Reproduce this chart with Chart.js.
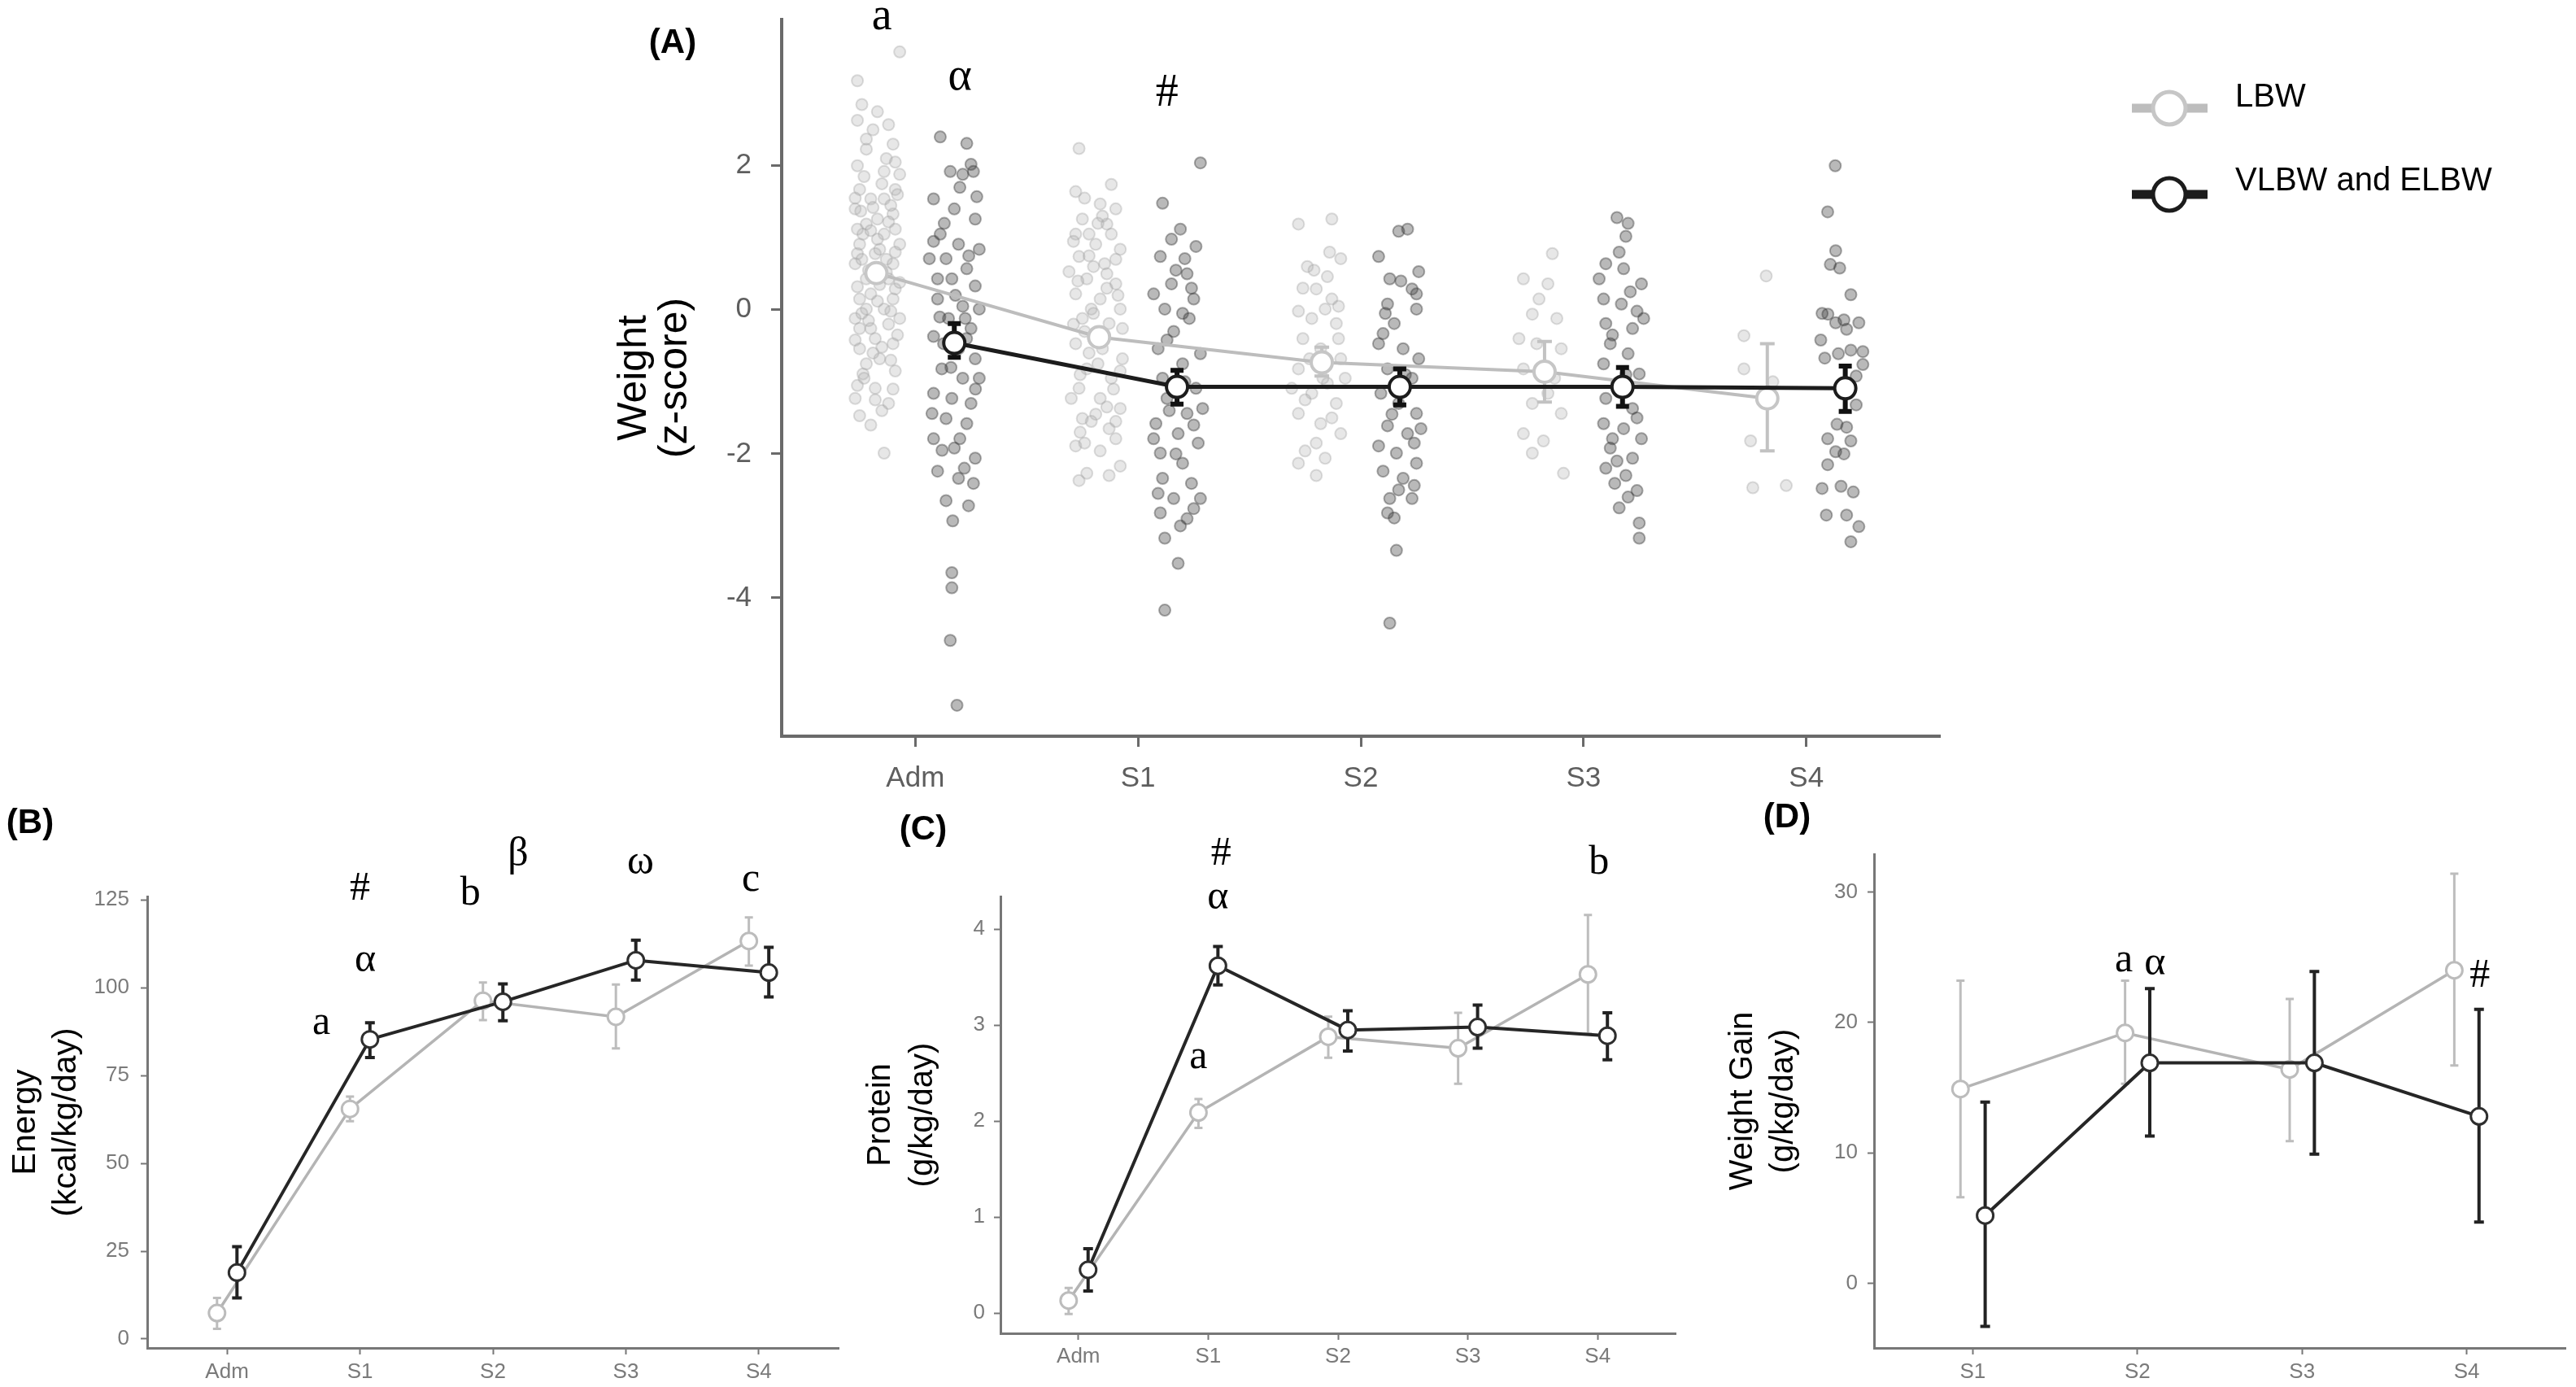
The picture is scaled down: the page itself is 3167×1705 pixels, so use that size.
<!DOCTYPE html>
<html>
<head>
<meta charset="utf-8">
<script src="https://cdn.jsdelivr.net/npm/chart.js@4.4.0/dist/chart.umd.min.js"></script>
<style>
  html, body { margin: 0; padding: 0; background: #fff; overflow: hidden; }
  body { width: 3167px; height: 1705px; position: relative; }
  canvas { position: absolute; }
  #cA { left: 700px; top: 0; width: 2467px; height: 990px; }
  #cB { left: 0; top: 960px; width: 1050px; height: 745px; }
  #cC { left: 1050px; top: 960px; width: 1050px; height: 745px; }
  #cD { left: 2100px; top: 960px; width: 1067px; height: 745px; }
</style>
</head>
<body>
<canvas id="cA" width="2467" height="990"></canvas>
<canvas id="cB" width="1050" height="745"></canvas>
<canvas id="cC" width="1050" height="745"></canvas>
<canvas id="cD" width="1067" height="745"></canvas>
<script>
// categories and groups
const stages = ['Adm', 'S1', 'S2', 'S3', 'S4'];
const stagesGain = ['S1', 'S2', 'S3', 'S4'];
const groups = ['LBW', 'VLBW and ELBW'];

// (A) weight z-score
const zLbwMean = [0.51, -0.38, -0.73, -0.86, -1.23];
const zLbwLo   = [0.42, -0.47, -0.92, -1.28, -1.96];
const zLbwHi   = [0.60, -0.29, -0.52, -0.44, -0.47];
const zVlbwMean = [-0.46, -1.07, -1.07, -1.07, -1.09];
const zVlbwLo   = [-0.66, -1.31, -1.32, -1.34, -1.41];
const zVlbwHi   = [-0.19, -0.84, -0.82, -0.80, -0.78];
const zTicks = [-4, -2, 0, 2];

// individual infants (x = stage index + jitter, y = z-score)
const zLbwPoints = [
  [-0.07,3.58],[-0.26,3.18],[-0.26,2.63],[-0.17,2.75],[-0.10,2.30],[-0.22,2.37],[-0.12,2.57],[-0.26,2.00],
  [-0.14,1.92],[-0.25,1.67],[-0.09,1.67],[-0.20,1.54],[-0.27,1.40],[-0.10,1.33],[-0.22,1.19],[-0.14,1.05],
  [-0.25,0.91],[-0.07,0.91],[-0.18,0.78],[-0.27,0.64],[-0.10,0.64],[-0.22,0.43],[-0.09,0.29],[-0.25,0.15],
  [-0.14,0.01],[-0.27,-0.12],[-0.07,-0.12],[-0.20,-0.26],[-0.10,-0.47],[-0.25,-0.54],[-0.16,-0.68],[-0.09,-0.85],
  [-0.235,-0.89],[-0.18,-1.09],[-0.27,-1.23],[-0.12,-1.30],[-0.25,-1.47],[-0.14,-1.99],[-0.17,1.26],[-0.235,1.05],
  [-0.12,0.43],[-0.22,0.01],[-0.10,0.15],[-0.18,-0.40],[-0.25,-0.26],[-0.16,0.84],[-0.09,1.12],[-0.245,1.37],
  [-0.14,1.54],[-0.07,1.88],[-0.22,2.23],[-0.20,1.10],[-0.13,0.70],[-0.21,0.55],[-0.16,0.35],[-0.24,-0.05],
  [-0.12,-0.20],[-0.19,-0.60],[-0.23,-0.95],[-0.15,-1.40],[-0.11,1.45],[-0.26,0.78],
  [-0.23,1.85],[-0.15,1.75],[-0.08,1.60],[-0.27,1.55],[-0.19,1.42],[-0.12,1.22],[-0.26,1.12],[-0.17,0.98],
  [-0.09,0.80],[-0.24,0.70],[-0.13,0.52],[-0.20,0.22],[-0.07,0.38],[-0.26,0.32],[-0.17,0.12],[-0.11,-0.02],
  [-0.21,-0.15],[-0.08,-0.35],[-0.27,-0.42],[-0.15,-0.52],[-0.22,-0.75],[-0.11,-0.70],[-0.26,-1.05],[-0.18,-1.25],
  [-0.10,-1.10],[-0.20,-1.60],[-0.13,2.10],[-0.19,2.50],[-0.09,2.05],[-0.24,2.85],
  [0.735,2.24],[0.88,1.74],[0.72,1.64],[0.83,1.47],[0.90,1.40],[0.75,1.26],[0.86,1.19],[0.72,1.05],
  [0.81,0.91],[0.92,0.84],[0.735,0.74],[0.85,0.64],[0.77,0.43],[0.90,0.36],[0.72,0.22],[0.83,0.15],
  [0.92,0.01],[0.75,-0.12],[0.87,-0.19],[0.72,-0.47],[0.84,-0.54],[0.93,-0.68],[0.77,-0.82],[0.88,-0.95],
  [0.735,-1.09],[0.83,-1.23],[0.92,-1.37],[0.75,-1.51],[0.87,-1.65],[0.72,-1.89],[0.83,-1.96],[0.92,-2.17],
  [0.77,-2.27],[0.735,-2.37],[0.79,0.01],[0.88,1.05],[0.78,1.05],[0.69,0.53],[0.93,-0.26],[0.70,-1.23],
  [0.90,-1.79],[0.80,0.60],[0.86,0.30],[0.76,-0.30],[0.82,-0.75],[0.89,-1.10],[0.74,-1.70],[0.81,-1.45],
  [0.76,1.55],[0.84,1.30],[0.71,0.95],[0.90,0.70],[0.78,0.75],[0.86,0.50],[0.73,0.40],[0.91,0.20],
  [0.80,-0.05],[0.71,-0.20],[0.85,-0.38],[0.78,-0.60],[0.92,-0.85],[0.74,-0.90],[0.86,-1.35],[0.79,-1.55],
  [0.90,-1.55],[0.76,-1.85],[0.87,-2.30],[0.82,1.20],
  [1.72,1.19],[1.87,1.26],[1.76,0.60],[1.85,0.46],[1.80,0.29],[1.91,0.71],[1.72,-0.02],[1.84,0.01],
  [1.89,-0.19],[1.74,-0.40],[1.82,-0.54],[1.91,-0.68],[1.72,-0.82],[1.85,-1.02],[1.78,-1.16],[1.89,-1.30],
  [1.72,-1.44],[1.82,-1.58],[1.91,-1.72],[1.75,-1.96],[1.84,-2.06],[1.72,-2.13],[1.80,-2.30],[1.87,0.15],
  [1.78,-0.12],[1.93,-0.95],[1.69,-1.09],[1.79,0.55],[1.86,0.80],[1.74,0.30],[1.90,-0.40],[1.77,-0.68],
  [1.87,-1.50],[1.80,-1.85],[1.83,-0.95],[1.75,-1.25],[1.90,0.05],
  [2.86,0.78],[2.73,0.43],[2.84,0.36],[2.77,-0.06],[2.88,-0.12],[2.71,-0.40],[2.79,-0.47],[2.90,-0.54],
  [2.73,-0.82],[2.84,-1.16],[2.77,-1.30],[2.90,-1.44],[2.73,-1.72],[2.82,-1.82],[2.77,-1.99],[2.91,-2.27],
  [2.80,0.15],[2.87,-0.95],
  [3.82,0.47],[3.72,-0.36],[3.72,-0.82],[3.75,-1.82],[3.76,-2.47],[3.91,-2.44],[3.85,-1.00]
];
const zVlbwPoints = [
  [0.112,2.40],[0.231,2.31],[0.25,2.02],[0.157,1.92],[0.213,1.88],[0.261,1.92],[0.082,1.54],[0.175,1.40],
  [0.269,1.26],[0.112,1.05],[0.082,0.95],[0.194,0.91],[0.287,0.84],[0.138,0.71],[0.231,0.57],[0.164,0.43],
  [0.269,0.33],[0.10,0.15],[0.213,0.05],[0.287,0.01],[0.149,-0.12],[0.25,-0.26],[0.082,-0.37],[0.194,-0.54],
  [0.269,-0.68],[0.119,-0.82],[0.213,-0.95],[0.082,-1.16],[0.164,-1.23],[0.25,-1.30],[0.138,-1.51],[0.231,-1.58],
  [0.082,-1.79],[0.175,-1.92],[0.269,-2.06],[0.10,-2.24],[0.194,-2.34],[0.261,-2.41],[0.138,-2.65],[0.239,-2.72],
  [0.168,-2.93],[0.164,-3.65],[0.164,-3.86],[0.157,-4.59],[0.187,-5.49],[0.063,0.71],[0.276,1.57],[0.10,0.43],
  [0.224,-0.12],[0.127,-0.47],[0.287,-0.95],[0.075,-1.44],[0.20,-1.79],
  [0.20,1.70],[0.13,1.20],[0.24,0.75],[0.18,0.20],[0.11,-0.10],[0.23,-0.40],[0.16,-0.80],[0.27,-1.10],
  [0.12,-1.95],[0.22,-2.20],
  [1.28,2.04],[1.11,1.48],[1.19,1.12],[1.26,0.88],[1.10,0.74],[1.22,0.50],[1.15,0.36],[1.25,0.15],
  [1.12,0.01],[1.23,-0.12],[1.16,-0.30],[1.09,-0.54],[1.28,-0.61],[1.20,-0.75],[1.11,-0.95],[1.26,-1.09],
  [1.13,-1.23],[1.22,-1.44],[1.08,-1.58],[1.18,-1.72],[1.27,-1.85],[1.10,-1.99],[1.20,-2.13],[1.11,-2.34],
  [1.24,-2.41],[1.16,-2.62],[1.28,-2.62],[1.10,-2.82],[1.19,-3.00],[1.12,-3.17],[1.18,-3.52],[1.12,-4.17],
  [1.21,0.71],[1.15,0.98],[1.07,0.22],[1.29,-1.37],[1.07,-1.79],[1.25,-2.76],
  [1.17,0.55],[1.24,0.30],[1.13,-0.42],[1.21,-1.00],[1.14,-1.40],[1.25,-1.60],[1.17,-2.00],[1.09,-2.55],
  [1.22,-2.90],[1.20,-0.05],
  [2.21,1.12],[2.17,1.09],[2.08,0.74],[2.26,0.53],[2.13,0.43],[2.23,0.29],[2.12,0.08],[2.25,0.01],
  [2.15,-0.19],[2.08,-0.47],[2.19,-0.54],[2.26,-0.68],[2.12,-0.82],[2.23,-0.95],[2.09,-1.16],[2.17,-1.30],
  [2.25,-1.44],[2.12,-1.61],[2.21,-1.72],[2.08,-1.89],[2.16,-1.99],[2.25,-2.13],[2.10,-2.24],[2.19,-2.34],
  [2.24,-2.44],[2.13,-2.62],[2.23,-2.62],[2.12,-2.82],[2.15,-2.89],[2.16,-3.34],[2.13,-4.35],[2.25,0.22],
  [2.10,-0.33],[2.27,-1.65],[2.18,0.40],[2.11,-0.05],[2.20,-0.90],[2.14,-1.45],[2.24,-1.85],[2.17,-2.50],
  [3.15,1.28],[3.20,1.20],[3.19,1.02],[3.10,0.64],[3.18,0.57],[3.26,0.36],[3.09,0.15],[3.17,0.08],
  [3.24,-0.02],[3.10,-0.19],[3.22,-0.26],[3.12,-0.47],[3.20,-0.61],[3.09,-0.75],[3.25,-0.89],[3.15,-1.02],
  [3.10,-1.23],[3.22,-1.37],[3.09,-1.58],[3.18,-1.65],[3.26,-1.79],[3.12,-1.92],[3.22,-2.06],[3.10,-2.20],
  [3.19,-2.30],[3.14,-2.41],[3.24,-2.51],[3.16,-2.75],[3.25,-2.96],[3.25,-3.17],[3.27,-0.12],[3.07,0.43],
  [3.13,-1.79],[3.16,0.80],[3.21,0.25],[3.13,-0.35],[3.19,-0.90],[3.24,-1.50],[3.15,-2.10],[3.20,-2.60],
  [4.13,2.00],[4.096,1.36],[4.132,0.82],[4.108,0.63],[4.15,0.58],[4.20,0.21],[4.071,-0.05],[4.097,-0.06],
  [4.132,-0.18],[4.169,-0.14],[4.236,-0.18],[4.181,-0.27],[4.065,-0.42],[4.083,-0.67],[4.144,-0.61],[4.20,-0.56],
  [4.254,-0.58],[4.254,-0.76],[4.224,-0.92],[4.224,-1.32],[4.138,-1.59],[4.181,-1.63],[4.096,-1.79],[4.20,-1.82],
  [4.132,-1.97],[4.169,-2.00],[4.096,-2.15],[4.071,-2.48],[4.156,-2.45],[4.211,-2.53],[4.09,-2.85],[4.181,-2.85],
  [4.236,-3.01],[4.20,-3.22]
];

// (B) energy intake, kcal/kg/day
const enLbwMean = [7.4, 65.5, 96.3, 91.7, 113.3];
const enLbwLo   = [2.9, 62.0, 90.8, 82.7, 106.3];
const enLbwHi   = [11.7, 69.0, 101.5, 100.9, 120.0];
const enVlbwMean = [18.9, 85.3, 96.0, 107.8, 104.3];
const enVlbwLo   = [11.7, 80.1, 90.6, 102.2, 97.4];
const enVlbwHi   = [26.3, 90.0, 101.1, 113.5, 111.5];
const enTicks = [0, 25, 50, 75, 100, 125];

// (C) protein intake, g/kg/day
const prLbwMean = [0.13, 2.09, 2.88, 2.76, 3.53];
const prLbwLo   = [-0.01, 1.93, 2.66, 2.39, 2.91];
const prLbwHi   = [0.26, 2.23, 3.09, 3.13, 4.15];
const prVlbwMean = [0.45, 3.62, 2.95, 2.98, 2.89];
const prVlbwLo   = [0.23, 3.42, 2.73, 2.76, 2.64];
const prVlbwHi   = [0.67, 3.82, 3.15, 3.21, 3.13];
const prTicks = [0, 1, 2, 3, 4];

// (D) weight gain, g/kg/day
const wgLbwMean = [14.9, 19.2, 16.4, 24.0];
const wgLbwLo   = [6.6, 15.3, 10.9, 16.7];
const wgLbwHi   = [23.2, 23.2, 21.8, 31.4];
const wgVlbwMean = [5.2, 16.9, 16.9, 12.8];
const wgVlbwLo   = [-3.3, 11.3, 9.9, 4.7];
const wgVlbwHi   = [13.9, 22.6, 23.9, 21.0];
const wgTicks = [0, 10, 20, 30];

// significance marks: [text, stage position, value]
const marksA = [['a', -0.15, 4.06], ['\u03b1', 0.2, 3.23], ['#', 1.13, 3.0]];
const marksB = [['#', 1.0, 128.0], ['\u03b1', 1.04, 107.6], ['a', 0.71, 89.8], ['b', 1.83, 126.8],
                ['\u03b2', 2.19, 137.7], ['\u03c9', 3.11, 135.6], ['c', 3.94, 130.7]];
const marksC = [['#', 1.1, 4.78], ['\u03b1', 1.075, 4.33], ['a', 0.925, 2.66], ['b', 4.01, 4.69]];
const marksD = [['a', 0.917, 24.75], ['\u03b1', 1.107, 24.46], ['#', 3.08, 23.56]];

const SANS = '"Liberation Sans", Arial, sans-serif';
const SERIF = '"Liberation Serif", "Times New Roman", serif';

// error bars drawn just before each mean series
const errorBars = {
  id: 'errorBars',
  beforeDatasetDraw(chart, args) {
    const ds = chart.data.datasets[args.index];
    if (!ds.errLo) return;
    const { ctx, scales: { x, y } } = chart;
    ctx.save();
    ctx.strokeStyle = ds.errColor;
    ctx.lineWidth = ds.errWidth;
    ds.data.forEach((pt, i) => {
      const px = x.getPixelForValue(pt.x);
      const lo = y.getPixelForValue(ds.errLo[i]);
      const hi = y.getPixelForValue(ds.errHi[i]);
      ctx.beginPath();
      ctx.moveTo(px, lo); ctx.lineTo(px, hi);
      ctx.moveTo(px - ds.capW, lo); ctx.lineTo(px + ds.capW, lo);
      ctx.moveTo(px - ds.capW, hi); ctx.lineTo(px + ds.capW, hi);
      ctx.stroke();
    });
    ctx.restore();
  }
};

function notesPlugin(p) {
  return {
    id: 'notes',
    afterDraw(chart) {
      const { ctx, scales: { x, y } } = chart;
      ctx.save();
      ctx.fillStyle = '#000';
      ctx.textAlign = 'center';
      ctx.textBaseline = 'middle';
      ctx.font = 'bold 42px ' + SANS;
      ctx.fillText(p.panel, p.panelX, p.panelY);
      ctx.font = p.markSize + 'px ' + SERIF;
      p.marks.forEach(([t, xv, yv]) => ctx.fillText(t, x.getPixelForValue(xv), y.getPixelForValue(yv)));
      if (p.legend) p.legend(chart);
      ctx.restore();
    }
  };
}

function drawLegend(chart) {
  const ctx = chart.ctx;
  const sets = chart.data.datasets.filter(d => d.errLo);
  // sets[0] is VLBW (drawn on top), sets[1] is LBW
  const rows = [[sets[1], 133, 120], [sets[0], 239, 223]];
  rows.forEach(([ds, sy, ty]) => {
    ctx.strokeStyle = ds.borderColor;
    ctx.lineWidth = 11;
    ctx.beginPath();
    ctx.moveTo(1921, sy); ctx.lineTo(2014, sy);
    ctx.stroke();
    ctx.fillStyle = '#fff';
    ctx.lineWidth = 5;
    ctx.strokeStyle = ds.pointBorderColor;
    ctx.beginPath();
    ctx.arc(1967, sy, 20, 0, Math.PI * 2);
    ctx.fill();
    ctx.stroke();
    ctx.fillStyle = '#000';
    ctx.textAlign = 'left';
    ctx.font = '40px ' + SANS;
    ctx.fillText(ds.label, 2048, ty);
  });
}

function meanSet(label, means, lo, hi, dodge, st, order) {
  return {
    label, order,
    data: means.map((v, i) => ({ x: i + dodge, y: v })),
    errLo: lo, errHi: hi, errColor: st.err, errWidth: st.errW, capW: st.cap,
    showLine: true, borderColor: st.line, borderWidth: st.lw,
    pointRadius: st.r, pointBorderWidth: st.pbw, pointBorderColor: st.pb,
    pointBackgroundColor: '#fff', fill: false, tension: 0
  };
}

function jitterSet(label, pts, fillCol, edgeCol, order) {
  return {
    label, order, showLine: false,
    data: pts.map(([x, y]) => ({ x, y })),
    pointRadius: 7, pointBorderWidth: 2,
    pointBackgroundColor: fillCol, pointBorderColor: edgeCol
  };
}

function buildPanel(id, p, datasets) {
  return new Chart(document.getElementById(id), {
    type: 'scatter',
    data: { datasets },
    options: {
      responsive: false,
      animation: false,
      layout: { padding: { left: 0, top: p.pt, right: p.pr, bottom: 0 } },
      plugins: { legend: { display: false }, tooltip: { enabled: false } },
      scales: {
        x: {
          type: 'linear', position: 'bottom', min: -0.6, max: p.cats.length - 0.4,
          afterBuildTicks: s => { s.ticks = p.cats.map((c, i) => ({ value: i })); },
          afterFit: s => { s.height = p.xh; s.paddingLeft = 0; s.paddingRight = 0; },
          ticks: {
            autoSkip: false, maxRotation: 0, color: p.tickColor, padding: p.xPad,
            font: { family: SANS, size: p.tickSize },
            callback: v => p.cats[Math.round(v)]
          },
          grid: { drawOnChartArea: false, tickLength: p.tl, tickWidth: p.tw, tickColor: p.axisColor },
          border: { color: p.axisColor, width: p.aw }
        },
        y: {
          type: 'linear', min: p.yMin, max: p.yMax,
          afterBuildTicks: s => { s.ticks = p.yTicks.map(v => ({ value: v })); },
          afterFit: s => { s.width = p.yw; s.paddingTop = 0; s.paddingBottom = 0; },
          ticks: {
            color: p.tickColor, padding: p.yPad,
            font: { family: SANS, size: p.tickSize },
            callback: v => String(v)
          },
          grid: { drawOnChartArea: false, tickLength: p.tl, tickWidth: p.tw, tickColor: p.axisColor },
          border: { color: p.axisColor, width: p.aw },
          title: {
            display: true, text: p.title, color: '#000',
            font: { family: SANS, size: p.titleSize, lineHeight: p.titleLh },
            padding: { top: p.titlePad, bottom: 0 }
          }
        }
      }
    },
    plugins: [errorBars, notesPlugin(p)]
  });
}

// styles
const bigLbw  = { line: '#bdbdbd', lw: 4, r: 13, pbw: 4, pb: '#c6c6c6', err: '#c2c2c2', errW: 4, cap: 9 };
const bigVlbw = { line: '#1c1c1c', lw: 5, r: 13, pbw: 4, pb: '#1c1c1c', err: '#111', errW: 6, cap: 8 };
const smLbw   = { line: '#b4b4b4', lw: 3.5, r: 10, pbw: 3, pb: '#bcbcbc', err: '#bdbdbd', errW: 3, cap: 5 };
const smVlbw  = { line: '#262626', lw: 4, r: 10, pbw: 3, pb: '#2e2e2e', err: '#222', errW: 4, cap: 6 };

// (A)
buildPanel('cA', {
  cats: stages, yMin: -5.92, yMax: 4.03, yTicks: zTicks,
  pt: 24, pr: 782, yw: 261, xh: 85,
  tickSize: 35, tickColor: '#5e5e5e', xPad: 18, yPad: 24, tl: 13, tw: 3, aw: 4, axisColor: '#6a6a6a',
  title: ['Weight', '(z-score)'], titleSize: 50, titleLh: 1.0, titlePad: 55,
  panel: '(A)', panelX: 127, panelY: 53, marks: marksA, markSize: 56, legend: drawLegend
}, [
  meanSet(groups[1], zVlbwMean, zVlbwLo, zVlbwHi, 0.175, bigVlbw, 0),
  meanSet(groups[0], zLbwMean, zLbwLo, zLbwHi, -0.175, bigLbw, 1),
  jitterSet(groups[1] + ' individual', zVlbwPoints, 'rgba(60,60,60,0.36)', 'rgba(60,60,60,0.42)', 2),
  jitterSet(groups[0] + ' individual', zLbwPoints, 'rgba(175,175,175,0.30)', 'rgba(160,160,160,0.36)', 3)
]);

// (B)
buildPanel('cB', {
  cats: stages, yMin: -2.55, yMax: 125.97, yTicks: enTicks,
  pt: 142, pr: 19, yw: 181, xh: 48,
  tickSize: 26, tickColor: '#7a7a7a', xPad: 6, yPad: 14, tl: 8, tw: 2, aw: 3, axisColor: '#777',
  title: ['Energy', '(kcal/kg/day)'], titleSize: 41, titleLh: 1.22, titlePad: 7,
  panel: '(B)', panelX: 37, panelY: 52, marks: marksB, markSize: 50
}, [
  meanSet(groups[1], enVlbwMean, enVlbwLo, enVlbwHi, 0.075, smVlbw, 0),
  meanSet(groups[0], enLbwMean, enLbwLo, enLbwHi, -0.075, smLbw, 1)
]);

// (C)
buildPanel('cC', {
  cats: stages, yMin: -0.212, yMax: 4.342, yTicks: prTicks,
  pt: 142, pr: 40, yw: 180, xh: 66,
  tickSize: 26, tickColor: '#7a7a7a', xPad: 5, yPad: 11, tl: 8, tw: 2, aw: 3, axisColor: '#777',
  title: ['Protein', '(g/kg/day)'], titleSize: 40, titleLh: 1.3, titlePad: 7,
  panel: '(C)', panelX: 85, panelY: 60, marks: marksC, markSize: 50
}, [
  meanSet(groups[1], prVlbwMean, prVlbwLo, prVlbwHi, 0.075, smVlbw, 0),
  meanSet(groups[0], prLbwMean, prLbwLo, prLbwHi, -0.075, smLbw, 1)
]);

// (D)
buildPanel('cD', {
  cats: stagesGain, yMin: -4.95, yMax: 32.9, yTicks: wgTicks,
  pt: 90, pr: 5, yw: 204, xh: 48,
  tickSize: 26, tickColor: '#7a7a7a', xPad: 6, yPad: 12, tl: 8, tw: 2, aw: 3, axisColor: '#777',
  title: ['Weight Gain', '(g/kg/day)'], titleSize: 40, titleLh: 1.25, titlePad: 18,
  panel: '(D)', panelX: 97, panelY: 45, marks: marksD, markSize: 50
}, [
  meanSet(groups[1], wgVlbwMean, wgVlbwLo, wgVlbwHi, 0.075, smVlbw, 0),
  meanSet(groups[0], wgLbwMean, wgLbwLo, wgLbwHi, -0.075, smLbw, 1)
]);
</script>
</body>
</html>
